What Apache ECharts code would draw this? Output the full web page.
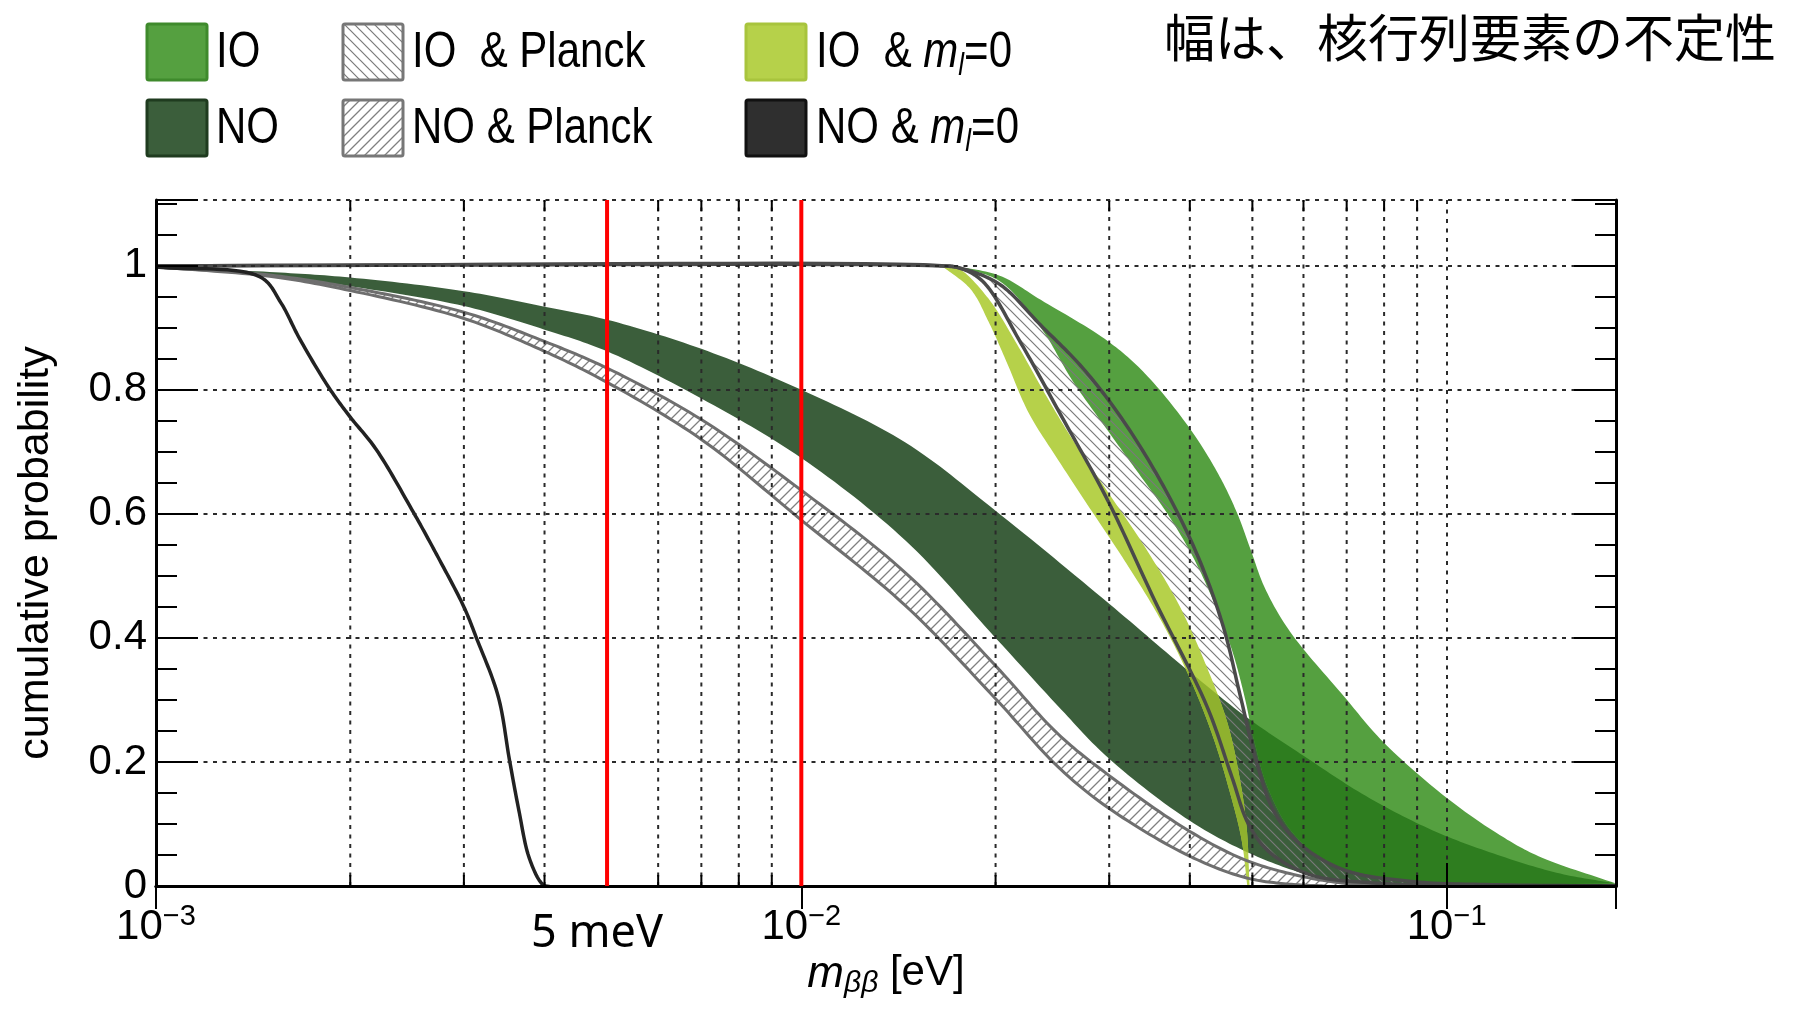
<!DOCTYPE html>
<html><head><meta charset="utf-8">
<script src="https://cdn.jsdelivr.net/npm/echarts@6/dist/echarts.min.js"></script>
<style>html,body{margin:0;padding:0;background:#fff}#c{width:1803px;height:1013px}</style>
</head><body><div id="c"></div>
<script>
// ---------------- DATA (x = m_bb in eV, y = cumulative probability) ----------------
const noUpper = [[0.001,0.998],[0.0015,0.99],[0.002,0.981],[0.003,0.959],[0.004,0.934],[0.005,0.913],[0.007,0.866],[0.01,0.80],[0.0145,0.715],[0.02,0.605],[0.03,0.455],[0.04,0.345],[0.0493,0.27],[0.06,0.21],[0.075,0.145],[0.095,0.09],[0.12,0.05],[0.15,0.02],[0.183,0.004]];
const noLower = [[0.001,0.998],[0.0015,0.985],[0.002,0.967],[0.003,0.935],[0.004,0.897],[0.005,0.862],[0.007,0.786],[0.01,0.69],[0.0145,0.557],[0.02,0.40],[0.025,0.29],[0.03,0.205],[0.04,0.105],[0.049,0.055],[0.06,0.02],[0.07,0.005],[0.085,0.0]];
const noPlanckUpper = [[0.001,0.998],[0.0015,0.985],[0.002,0.965],[0.003,0.925],[0.004,0.878],[0.005,0.835],[0.007,0.752],[0.01,0.638],[0.0145,0.505],[0.02,0.355],[0.025,0.245],[0.03,0.178],[0.04,0.088],[0.049,0.041],[0.06,0.015],[0.07,0.004],[0.08,0.0]];
const noPlanckLower = [[0.001,0.998],[0.0015,0.983],[0.002,0.96],[0.003,0.915],[0.004,0.862],[0.005,0.812],[0.007,0.72],[0.01,0.59],[0.0145,0.452],[0.02,0.302],[0.025,0.192],[0.03,0.125],[0.04,0.048],[0.049,0.013],[0.057,0.003],[0.065,0.0]];
const ioOuter = [[0.0172,1.0],[0.0203,0.984],[0.0235,0.945],[0.0299,0.878],[0.0341,0.826],[0.0401,0.736],[0.0445,0.66],[0.0474,0.60],[0.0497,0.542],[0.0523,0.48],[0.0572,0.41],[0.0693,0.306],[0.0797,0.2325],[0.0995,0.144],[0.1197,0.085],[0.1388,0.048],[0.183,0.004]];
const ioInner = [[0.0172,1.0],[0.0203,0.975],[0.0235,0.9],[0.0263,0.815],[0.0298,0.735],[0.0336,0.66],[0.0372,0.595],[0.0407,0.525],[0.0438,0.452],[0.0465,0.38],[0.0486,0.306],[0.0503,0.235],[0.0528,0.159],[0.0575,0.088],[0.0663,0.035],[0.0891,0.008],[0.1197,0.002],[0.16,0.0]];
const ioPlanckA = [[0.001,1.0],[0.0162,1.0],[0.0175,0.997],[0.0191,0.975],[0.0219,0.875],[0.0251,0.764],[0.0299,0.62],[0.0353,0.46],[0.0425,0.29],[0.0465,0.175],[0.0493,0.10],[0.0531,0.055],[0.0615,0.018],[0.0768,0.005],[0.1,0.0]];
const ioPlanckB = [[0.001,1.0],[0.0165,1.0],[0.0178,0.995],[0.0203,0.97],[0.0235,0.904],[0.0273,0.835],[0.0316,0.749],[0.0367,0.638],[0.0413,0.528],[0.0451,0.417],[0.0479,0.306],[0.0508,0.198],[0.0539,0.122],[0.0589,0.07],[0.0693,0.026],[0.0891,0.007],[0.1197,0.002],[0.183,0.0]];
const ioM0Left = [[0.0165,1.0],[0.0183,0.962],[0.0195,0.91],[0.0208,0.845],[0.0225,0.763],[0.025,0.687],[0.0282,0.604],[0.0319,0.52],[0.0361,0.428],[0.040,0.335],[0.0434,0.242],[0.0462,0.149],[0.0481,0.075],[0.0491,0.0]];
const ioM0Right = [[0.0165,1.0],[0.0175,0.996],[0.0195,0.947],[0.0216,0.873],[0.024,0.789],[0.0265,0.715],[0.030,0.632],[0.034,0.548],[0.0384,0.455],[0.0425,0.353],[0.0458,0.261],[0.0479,0.168],[0.049,0.094],[0.0495,0.0]];
const noM0 = [[0.001,0.998],[0.00145,0.982],[0.00156,0.941],[0.00167,0.882],[0.00186,0.801],[0.0020,0.756],[0.00219,0.705],[0.00251,0.601],[0.00272,0.535],[0.0030,0.45],[0.00314,0.399],[0.00339,0.306],[0.00353,0.203],[0.00365,0.122],[0.00378,0.048],[0.00394,0.007],[0.00402,0.0],[0.183,0.0]];
const redLineX = [0.005, 0.01];
const xMinorGrid = [0.002,0.003,0.004,0.005,0.006,0.007,0.008,0.009,0.02,0.03,0.04,0.05,0.06,0.07,0.08,0.09];
const legendLabels = ['IO','NO','IO  & Planck','NO & Planck','IO  & ','NO & '];
const annotationText = '幅は、核行列要素の不定性';
const markerText = '5 meV';
const yTitle = 'cumulative probability';

// ---------------- RENDERING ----------------
const XMIN = 0.001, XMAX = 0.183, YMAX = 1.106;
const FONT = '"Liberation Sans", Arial, Helvetica, sans-serif';

function makeHatch(dir, size, color, lw) {
  const c = document.createElement('canvas');
  c.width = size; c.height = size;
  const ctx = c.getContext('2d');
  ctx.strokeStyle = color; ctx.lineWidth = lw; ctx.lineCap = 'square';
  ctx.beginPath();
  if (dir === '/') {
    ctx.moveTo(0, size); ctx.lineTo(size, 0);
    ctx.moveTo(-2, 2); ctx.lineTo(2, -2);
    ctx.moveTo(size - 2, size + 2); ctx.lineTo(size + 2, size - 2);
  } else {
    ctx.moveTo(0, 0); ctx.lineTo(size, size);
    ctx.moveTo(-2, size - 2); ctx.lineTo(2, size + 2);
    ctx.moveTo(size - 2, -2); ctx.lineTo(size + 2, 2);
  }
  ctx.stroke();
  return {type: 'pattern', image: c, repeat: 'repeat'};
}
const hatchNO = makeHatch('/', 10, '#808080', 1.3);
const hatchIO = makeHatch('\\', 10, '#7a7a7a', 1.2);

// centripetal Catmull-Rom through screen points (rendering only)
function smoothPath(P) {
  if (P.length < 3) return P;
  const n = P.length;
  const ext = [[2 * P[0][0] - P[1][0], 2 * P[0][1] - P[1][1]]].concat(P, [[2 * P[n - 1][0] - P[n - 2][0], 2 * P[n - 1][1] - P[n - 2][1]]]);
  const out = [];
  const d = (a, b) => Math.max(Math.pow(Math.hypot(b[0] - a[0], b[1] - a[1]), 0.5), 1e-4);
  const lerp = (a, b, ta, tb, t) => [((tb - t) * a[0] + (t - ta) * b[0]) / (tb - ta), ((tb - t) * a[1] + (t - ta) * b[1]) / (tb - ta)];
  for (let i = 0; i < n - 1; i++) {
    const p0 = ext[i], p1 = ext[i + 1], p2 = ext[i + 2], p3 = ext[i + 3];
    const t0 = 0, t1 = t0 + d(p0, p1), t2 = t1 + d(p1, p2), t3 = t2 + d(p2, p3);
    const steps = 16;
    for (let k = 0; k < steps; k++) {
      const t = t1 + (t2 - t1) * k / steps;
      const A1 = lerp(p0, p1, t0, t1, t), A2 = lerp(p1, p2, t1, t2, t), A3 = lerp(p2, p3, t2, t3, t);
      const B1 = lerp(A1, A2, t0, t2, t), B2 = lerp(A2, A3, t1, t3, t);
      out.push(lerp(B1, B2, t1, t2, t));
    }
  }
  out.push(P[n - 1]);
  return out;
}
function pts(api, arr) { return smoothPath(arr.map(p => api.coord(p))); }
function bandPts(api, up, lo) { return pts(api, up).concat(pts(api, lo).reverse()); }

function bandSeries(up, lo, fill, z, clipUp, clipLo) {
  return {
    type: 'custom', silent: true, clip: true, z: z, data: [[0.01, 0.5]],
    renderItem: function (params, api) {
      const el = {type: 'polygon', shape: {points: bandPts(api, up, lo)}, style: {fill: fill}};
      if (clipUp) el.clipPath = {type: 'polygon', shape: {points: bandPts(api, clipUp, clipLo)}};
      return el;
    }
  };
}
function lineSeries(arr, stroke, width, z) {
  return {
    type: 'custom', silent: true, clip: true, z: z, data: [[0.01, 0.5]],
    renderItem: function (params, api) {
      return {type: 'polyline', shape: {points: pts(api, arr)}, style: {stroke: stroke, lineWidth: width, fill: null, lineJoin: 'round'}};
    }
  };
}
const gridDash = [4, 5.5];
const gridColor = '#2a2a2a';

const minorGridSeries = {
  type: 'custom', silent: true, clip: true, z: 11, data: [[0.01, 0.5]],
  renderItem: function (params, api) {
    const children = [];
    xMinorGrid.forEach(v => {
      const b = api.coord([v, 0]), t = api.coord([v, YMAX]);
      children.push({type: 'line', shape: {x1: b[0], y1: b[1], x2: t[0], y2: t[1]}, style: {stroke: gridColor, lineWidth: 2, lineDash: gridDash}});
      children.push({type: 'line', shape: {x1: b[0], y1: b[1], x2: b[0], y2: b[1] - 11}, style: {stroke: '#000', lineWidth: 2}});
      children.push({type: 'line', shape: {x1: t[0], y1: t[1], x2: t[0], y2: t[1] + 11}, style: {stroke: '#000', lineWidth: 2}});
    });
    return {type: 'group', children: children};
  }
};

const series = [
  bandSeries(noUpper, noLower, '#3b5e3b', 2),
  bandSeries(noPlanckUpper, noPlanckLower, hatchNO, 3),
  bandSeries(ioOuter, ioInner, '#55a040', 4),
  bandSeries(ioOuter, ioInner, '#2e7d1f', 5, noUpper, noLower),
  bandSeries(ioPlanckB, ioPlanckA, hatchIO, 6),
  bandSeries(ioM0Right, ioM0Left, '#b6d14a', 7),
  bandSeries(ioM0Right, ioM0Left, '#8fb12e', 8, noUpper, noLower),
  lineSeries(noPlanckUpper, '#6e6e6e', 3, 9),
  lineSeries(noPlanckLower, '#6e6e6e', 3, 9),
  lineSeries(ioPlanckA, '#4a4a4a', 3.5, 9),
  lineSeries(ioPlanckB, '#4a4a4a', 3.5, 9),
  lineSeries(noM0, '#222', 3.5, 10),
  minorGridSeries
];
redLineX.forEach(v => series.push({
  type: 'line', silent: true, z: 13, symbol: 'none', data: [[v, 0], [v, YMAX]],
  lineStyle: {color: '#ff0000', width: 4}
}));

function xLabel(v) {
  const e = Math.log10(v), r = Math.round(e);
  if (Math.abs(e - r) > 1e-6) return '';
  return '{b|10}{s|\u2212' + (-r) + '}';
}
const yTickStyle = {inside: true, length: 21, lineStyle: {color: '#000', width: 2}};
const yMajorStyle = {inside: true, length: 42, lineStyle: {color: '#000', width: 2}};
const axisLineStyle = {show: true, lineStyle: {color: '#000', width: 3}};

const option = {
  animation: false,
  backgroundColor: '#fff',
  grid: {left: 156, right: 187, top: 200, bottom: 127, containLabel: false},
  xAxis: [
    {type: 'log', logBase: 10, min: XMIN, max: XMAX, position: 'bottom', z: 12,
     axisLine: axisLineStyle, axisTick: {inside: true, length: 23, lineStyle: {color: '#000', width: 2}},
     splitLine: {show: true, lineStyle: {type: gridDash, color: gridColor, width: 2}},
     axisLabel: {margin: 16, formatter: xLabel, showMaxLabel: false,
       rich: {b: {fontSize: 42, fontFamily: FONT, color: '#000', lineHeight: 46, verticalAlign: 'bottom'},
              s: {fontSize: 29, fontFamily: FONT, color: '#000', lineHeight: 30, verticalAlign: 'top'}}},
     name: '{m|m}{s|\u03b2\u03b2}{n| [eV]}', nameLocation: 'middle', nameGap: 66,
     nameTextStyle: {rich: {
       m: {fontSize: 44, fontStyle: 'italic', fontFamily: FONT, color: '#000', lineHeight: 46, verticalAlign: 'top'},
       s: {fontSize: 30, fontStyle: 'italic', fontFamily: FONT, color: '#000', lineHeight: 30, verticalAlign: 'bottom'},
       n: {fontSize: 42, fontFamily: FONT, color: '#000', lineHeight: 46, verticalAlign: 'top'}}}},
    {type: 'log', logBase: 10, min: XMIN, max: XMAX, position: 'top', z: 12,
     axisLine: axisLineStyle, axisTick: {inside: true, length: 23, lineStyle: {color: '#000', width: 2}},
     splitLine: {show: false}, axisLabel: {show: false}}
  ],
  yAxis: [
    {type: 'value', position: 'left', min: 0, max: YMAX, interval: 0.05, z: 12,
     axisLine: axisLineStyle, axisTick: yTickStyle, axisLabel: {show: false}, splitLine: {show: false},
     name: yTitle, nameLocation: 'middle', nameRotate: 90, nameGap: 98,
     nameTextStyle: {fontSize: 43, fontFamily: FONT, color: '#000', padding: [0, 20, 0, 0]}},
    {type: 'value', position: 'left', min: 0, max: YMAX, interval: 0.2, z: 12,
     axisLine: {show: false}, axisTick: yMajorStyle,
     axisLabel: {margin: 9, fontSize: 42, fontFamily: FONT, color: '#000',
       formatter: v => (v > 1.01 ? '' : String(Math.round(v * 10) / 10))},
     splitLine: {show: true, lineStyle: {type: gridDash, color: gridColor, width: 2}}},
    {type: 'value', position: 'right', min: 0, max: YMAX, interval: 0.05, z: 12,
     axisLine: axisLineStyle, axisTick: yTickStyle, axisLabel: {show: false}, splitLine: {show: false}},
    {type: 'value', position: 'right', min: 0, max: YMAX, interval: 0.2, z: 12,
     axisLine: {show: false}, axisTick: yMajorStyle, axisLabel: {show: false}, splitLine: {show: false}}
  ],
  series: series.map(s => Object.assign({xAxisIndex: 0, yAxisIndex: 0}, s)),
  graphic: []
};

// legend (drawn with graphic elements)
const legendBoxes = [
  {x: 147, y: 24, fill: '#55a040', stroke: '#3f8a2c'},
  {x: 147, y: 100, fill: '#3b5e3b', stroke: '#1f3b1f'},
  {x: 343, y: 24, fill: hatchIO, stroke: '#777', bg: true},
  {x: 343, y: 100, fill: hatchNO, stroke: '#777', bg: true},
  {x: 746, y: 24, fill: '#b6d14a', stroke: '#a8c43d'},
  {x: 746, y: 100, fill: '#2f2f2f', stroke: '#111'}
];
const legendTextX = [216, 216, 412, 412, 816, 816];
legendBoxes.forEach((b, i) => {
  if (b.bg) option.graphic.push({type: 'rect', shape: {x: b.x, y: b.y, width: 60, height: 56}, style: {fill: '#fff'}, z: 100});
  option.graphic.push({type: 'rect', shape: {x: b.x, y: b.y, width: 60, height: 56, r: 2}, style: {fill: b.fill, stroke: b.stroke, lineWidth: 3}, z: 101});
  const isM = i >= 4;
  option.graphic.push({type: 'text', x: legendTextX[i], y: b.y + 29, z: 102, scaleY: 1.18,
    style: {text: isM ? '{a|' + legendLabels[i] + '}{m|m}{l|l}{a|=0}' : legendLabels[i],
      font: '42px ' + FONT, fill: '#000', verticalAlign: 'middle', textVerticalAlign: 'middle',
      rich: {a: {fontSize: 42, fontFamily: FONT, fill: '#000', lineHeight: 48, verticalAlign: 'middle'},
             m: {fontSize: 42, fontFamily: FONT, fontStyle: 'italic', fill: '#000', lineHeight: 48, verticalAlign: 'middle'},
             l: {fontSize: 26, fontFamily: FONT, fontStyle: 'italic', fill: '#000', lineHeight: 26, verticalAlign: 'bottom'}}}});
});
option.graphic.push({type: 'text', x: 1164, y: 12, z: 102,
  style: {text: annotationText, font: '51px "Noto Sans CJK JP"', fill: '#000'}});
option.graphic.push({type: 'text', x: 531, y: 912, z: 102,
  style: {text: markerText, font: '45px "Noto Sans", sans-serif', fill: '#000'}});

const chart = echarts.init(document.getElementById('c'), null, {renderer: 'canvas', width: 1803, height: 1013});
chart.setOption(option);
</script></body></html>
